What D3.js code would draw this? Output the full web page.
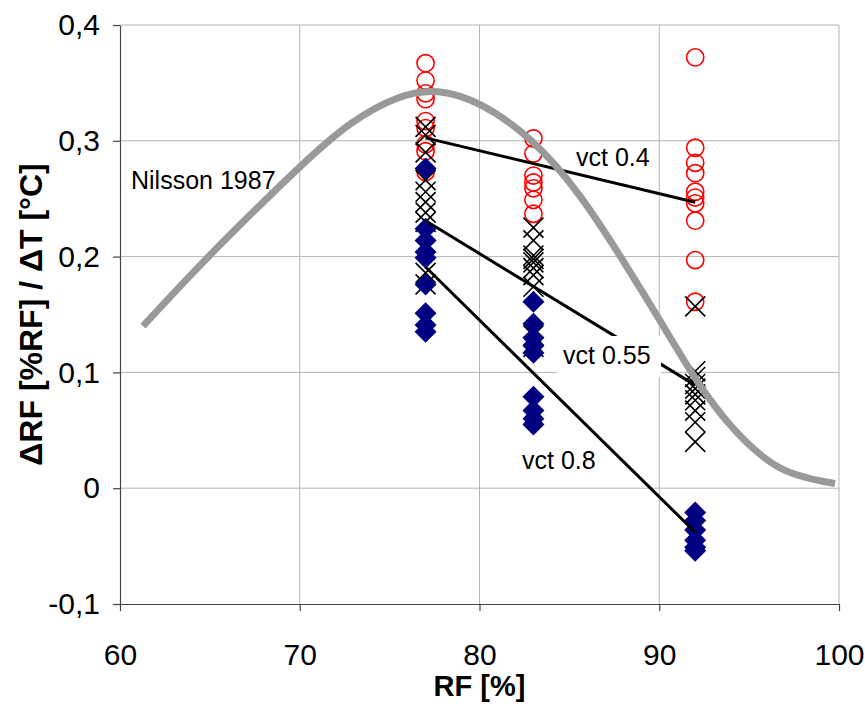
<!DOCTYPE html>
<html><head><meta charset="utf-8">
<script src="https://cdn.jsdelivr.net/npm/d3@7/dist/d3.min.js"></script>
<style>body{margin:0;background:#fff}svg{display:block}text{font-family:"Liberation Sans",Arial,sans-serif}</style>
</head><body><svg id="c" width="865" height="704"></svg>
<script>
const xTicks = [60,70,80,90,100];
const yTicks = [-0.1,0,0.1,0.2,0.3,0.4];
const yTickLabels = ["-0,1","0","0,1","0,2","0,3","0,4"];

// RF positions of the measurement columns
const colX = [77, 83, 92];
// vct 0.4 (red circles)
const red77 = [0.367,0.352,0.341,0.336,0.317,0.311,0.297,0.291,0.273];
const red83 = [0.302,0.289,0.270,0.264,0.259,0.249,0.237];
const red92 = [0.372,0.294,0.281,0.272,0.256,0.251,0.246,0.231,0.197,0.161];
// vct 0.55 (black crosses)
const x77 = [0.312,0.305,0.290,0.266,0.256,0.247,0.238,0.230,0.186,0.176];
const x83 = [0.225,0.214,0.201,0.198,0.195,0.190,0.184,0.174,0.132,0.122];
const x92 = [0.157,0.101,0.096,0.090,0.086,0.081,0.076,0.067,0.057,0.040];
// vct 0.8 (blue diamonds)
const b77 = [0.276,0.224,0.214,0.204,0.199,0.176,0.151,0.141,0.135];
const b83 = [0.161,0.142,0.130,0.123,0.117,0.079,0.067,0.060,0.055];
const b92 = [-0.021,-0.028,-0.036,-0.045,-0.051,-0.054];

// regression lines: values at fitX
const fitNames = ["vct 0.4","vct 0.55","vct 0.8"];
const fitX = [77, 92];
const fit04 = [0.3025, 0.247];
const fit055 = [0.231, 0.089];
const fit08 = [0.191, -0.038];

// Nilsson 1987 curve
const nilRF = [61.28,64.45,67.23,70.01,72.80,75.58,77.64,80.03,82.98,85.59,88.26,90.04,92.10,93.94,95.61,97.0,98.4,99.78];
const nilV  = [0.140,0.193,0.236,0.278,0.317,0.340,0.345,0.334,0.302,0.255,0.190,0.145,0.091,0.053,0.028,0.014,0.008,0.004];

const W=865,H=704, L=120, R=839, T=25, B=604;
const svg = d3.select("#c");
const x = d3.scaleLinear().domain([60,100]).range([L,R]);
const y = d3.scaleLinear().domain([-0.1,0.4]).range([B,T]);

// grid
const grid = svg.append("g");
grid.selectAll(".vg").data(xTicks.slice(1)).join("line")
  .attr("x1",d=>x(d)).attr("x2",d=>x(d)).attr("y1",T).attr("y2",B)
  .attr("stroke","#b4b4b4").attr("stroke-width",1);
grid.selectAll(".hg").data(yTicks.slice(1)).join("line")
  .attr("x1",L).attr("x2",R).attr("y1",d=>y(d)).attr("y2",d=>y(d))
  .attr("stroke","#b4b4b4").attr("stroke-width",1);

// axes
const fs = 30;
const xa = svg.append("g").attr("transform",`translate(0,${B})`)
  .call(d3.axisBottom(x).tickValues(xTicks).tickSize(7).tickPadding(33).tickSizeOuter(0));
const ya = svg.append("g").attr("transform",`translate(${L},0)`)
  .call(d3.axisLeft(y).tickValues(yTicks).tickSize(7).tickPadding(13).tickSizeOuter(0)
    .tickFormat((d,i)=>yTickLabels[i]));
[xa,ya].forEach(a=>{
  a.selectAll("path,line").attr("stroke","#444").attr("stroke-width",1.2);
  a.selectAll("text").attr("font-size",fs).attr("fill","#000").attr("font-family","Liberation Sans, Arial, sans-serif");
});

// markers
const plot = svg.append("g");
function pts(arr, rf){ return arr.map(v=>({rf, v})); }
const reds = [...pts(red77,colX[0]),...pts(red83,colX[1]),...pts(red92,colX[2])];
const crosses = [...pts(x77,colX[0]),...pts(x83,colX[1]),...pts(x92,colX[2])];
const blues = [...pts(b77,colX[0]),...pts(b83,colX[1]),...pts(b92,colX[2])];

plot.selectAll(".r").data(reds).join("circle")
  .attr("cx",d=>x(d.rf)).attr("cy",d=>y(d.v)).attr("r",8.6)
  .attr("fill","none").attr("stroke","#ff0000").attr("stroke-width",1.6);
const cs = 10;
plot.selectAll(".x").data(crosses).join("path")
  .attr("transform",d=>`translate(${x(d.rf)},${y(d.v)})`)
  .attr("d",`M${-cs},${-cs}L${cs},${cs}M${-cs},${cs}L${cs},${-cs}`)
  .attr("stroke","#000").attr("stroke-width",1.6).attr("fill","none");
const ds = 11;
plot.selectAll(".b").data(blues).join("path")
  .attr("transform",d=>`translate(${x(d.rf)},${y(d.v)})`)
  .attr("d",`M0,${-ds}L${ds},0L0,${ds}L${-ds},0Z`)
  .attr("fill","#000080");

// fit lines
[fit04,fit055,fit08].forEach(f=>{
  plot.append("line").attr("x1",x(fitX[0])).attr("y1",y(f[0])).attr("x2",x(fitX[1])).attr("y2",y(f[1]))
    .attr("stroke","#000").attr("stroke-width",3);
});

// Nilsson curve
const curve = nilRF.map((r,i)=>[r,nilV[i]]);
plot.append("path").datum(curve)
  .attr("d", d3.line().x(d=>x(d[0])).y(d=>y(d[1])).curve(d3.curveBasis))
  .attr("fill","none").attr("stroke","#999999").attr("stroke-width",7).attr("stroke-linecap","butt");

// annotations
const af = 25;
svg.append("text").attr("x",131).attr("y",189).attr("font-size",af).text("Nilsson 1987");
svg.append("text").attr("x",576).attr("y",166).attr("font-size",af).text(fitNames[0]);
svg.append("rect").attr("x",557).attr("y",336).attr("width",104).attr("height",41).attr("fill","#fff");
svg.append("text").attr("x",563).attr("y",364).attr("font-size",af).text(fitNames[1]);
svg.append("text").attr("x",522).attr("y",469).attr("font-size",af).text(fitNames[2]);

// axis titles
svg.append("text").attr("x",(L+R)/2).attr("y",696).attr("text-anchor","middle")
  .attr("font-size",29).attr("font-weight","bold").text("RF [%]");
svg.append("text").attr("transform",`translate(42,${(T+B)/2}) rotate(-90)`).attr("text-anchor","middle")
  .attr("font-size",32).attr("font-weight","bold").text("ΔRF [%RF] / ΔT [°C]");
</script></body></html>
